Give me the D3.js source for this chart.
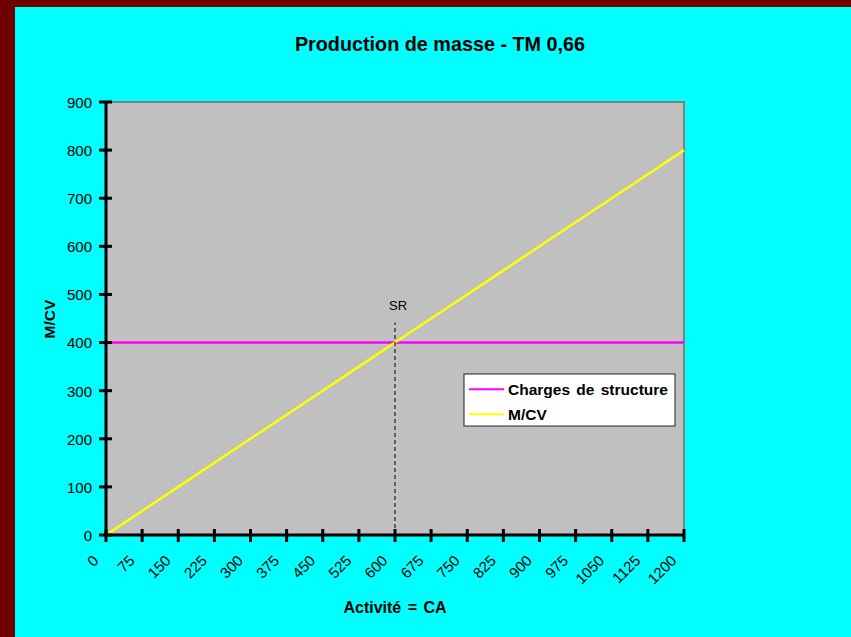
<!DOCTYPE html>
<html>
<head>
<meta charset="utf-8">
<script src="https://cdn.jsdelivr.net/npm/d3@7"></script>
<style>
  html, body { margin: 0; padding: 0; background: #00FFFF; }
  svg { display: block; }
  text { font-family: "Liberation Sans", Arial, sans-serif; fill: #000; }
</style>
</head>
<body>
<script>
// Activité (CA) sampled every 75
const activite = [0, 75, 150, 225, 300, 375, 450, 525, 600, 675, 750, 825, 900, 975, 1050, 1125, 1200];
// Marge sur coûts variables
const mcv = [0, 50, 100, 150, 200, 250, 300, 350, 400, 450, 500, 550, 600, 650, 700, 750, 800];
// Charges de structure (fixed)
const chargesStructure = [400, 400, 400, 400, 400, 400, 400, 400, 400, 400, 400, 400, 400, 400, 400, 400, 400];
const yTicks = [0, 100, 200, 300, 400, 500, 600, 700, 800, 900];
const seuil = { x: 600, y: 400, label: "SR" };
const seriesNames = ["Charges de structure", "M/CV"];
const seriesColors = ["#FF00FF", "#FFFF00"];

const W = 851, H = 637;
const svg = d3.select("body").append("svg").attr("width", W).attr("height", H);

// page frame: maroon strip on the left and top
svg.append("rect").attr("width", W).attr("height", H).attr("fill", "#700000");
svg.append("rect").attr("x", 15).attr("y", 7).attr("width", W - 15).attr("height", H - 7).attr("fill", "#00FFFF");

const plot = { left: 106, right: 684, top: 102, bottom: 535 };
const x = d3.scaleLinear().domain([0, 1200]).range([plot.left, plot.right]);
const y = d3.scaleLinear().domain([0, 900]).range([plot.bottom, plot.top]);

// plot background
svg.append("rect")
  .attr("x", plot.left).attr("y", plot.top)
  .attr("width", plot.right - plot.left).attr("height", plot.bottom - plot.top)
  .attr("fill", "#C0C0C0").attr("stroke", "#808080").attr("stroke-width", 2);

// title
svg.append("text").attr("x", 440).attr("y", 51).attr("text-anchor", "middle")
  .style("font-size", "19.8px").style("font-weight", "bold")
  .text("Production de masse - TM 0,66");

// series lines
const line = d3.line().x((d, i) => x(activite[i])).y(d => y(d));
svg.append("path").datum(chargesStructure).attr("d", line)
  .attr("fill", "none").attr("stroke", seriesColors[0]).attr("stroke-width", 2.5);
svg.append("path").datum(mcv).attr("d", line)
  .attr("fill", "none").attr("stroke", seriesColors[1]).attr("stroke-width", 2.5);

// break-even marker
svg.append("line")
  .attr("x1", x(seuil.x)).attr("x2", x(seuil.x))
  .attr("y1", y(0)).attr("y2", y(seuil.y) - 20)
  .attr("stroke", "#000").attr("stroke-width", 1).attr("stroke-dasharray", "4,3");
svg.append("text").attr("x", x(seuil.x) + 3).attr("y", y(seuil.y) - 33)
  .attr("text-anchor", "middle").style("font-size", "13px").text(seuil.label);

// axes
const yAxis = d3.axisLeft(y).tickValues(yTicks).tickSize(0).tickPadding(14);
const gy = svg.append("g").attr("transform", `translate(${plot.left},0)`).call(yAxis);
gy.select(".domain").remove();
gy.selectAll("text").style("font-size", "15px").attr("dy", "0.36em");

const xAxis = d3.axisBottom(x).tickValues(activite).tickSize(0).tickFormat(d3.format("d"));
const gx = svg.append("g").attr("transform", `translate(0,${plot.bottom})`).call(xAxis);
gx.select(".domain").remove();
gx.selectAll("text")
  .style("font-size", "15px")
  .attr("text-anchor", "end")
  .attr("dy", null)
  .attr("y", 0)
  .attr("transform", "translate(-7,26.5) rotate(-45)");

// axis lines with crossing ticks
const axisG = svg.append("g").attr("stroke", "#000").attr("stroke-width", 3);
axisG.append("line").attr("x1", plot.left).attr("x2", plot.left).attr("y1", plot.top - 1).attr("y2", plot.bottom);
axisG.append("line").attr("x1", plot.left).attr("x2", plot.right).attr("y1", plot.bottom).attr("y2", plot.bottom);
yTicks.forEach(t => {
  axisG.append("line").attr("x1", plot.left - 7).attr("x2", plot.left + 6).attr("y1", y(t)).attr("y2", y(t));
});
activite.forEach(t => {
  axisG.append("line").attr("x1", x(t)).attr("x2", x(t)).attr("y1", plot.bottom - 6).attr("y2", plot.bottom + 7);
});

// axis titles
svg.append("text").attr("transform", `translate(55,319) rotate(-90)`)
  .attr("text-anchor", "middle").style("font-size", "15.5px").style("font-weight", "bold")
  .text("M/CV");
svg.append("text").attr("x", 395).attr("y", 613).attr("text-anchor", "middle")
  .style("font-size", "16px").style("font-weight", "bold").style("word-spacing", "2px")
  .text("Activité = CA");

// legend
const lg = svg.append("g").attr("transform", "translate(464,374)");
lg.append("rect").attr("width", 211).attr("height", 52)
  .attr("fill", "#fff").attr("stroke", "#222").attr("stroke-width", 1);
seriesNames.forEach((name, i) => {
  const yy = 15.3 + i * 25;
  lg.append("line").attr("x1", 5).attr("x2", 40).attr("y1", yy).attr("y2", yy)
    .attr("stroke", seriesColors[i]).attr("stroke-width", 2);
  lg.append("text").attr("x", 44).attr("y", yy + 5.2)
    .style("font-size", "15.5px").style("font-weight", "bold").style("word-spacing", "2px").text(name);
});
</script>
</body>
</html>
